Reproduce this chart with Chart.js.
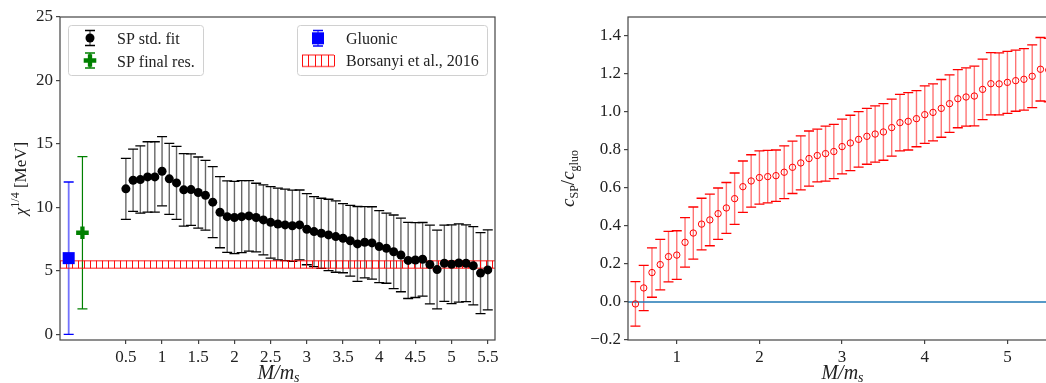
<!DOCTYPE html>
<html>
<head>
<meta charset="utf-8">
<script src="https://cdn.jsdelivr.net/npm/chart.js@4.4.0/dist/chart.umd.min.js"></script>
<style>
  html, body { margin: 0; padding: 0; background: #fff; overflow: hidden; }
  #leftBox { position: absolute; left: 0; top: 0; }
  #rightBox { position: absolute; left: 540px; top: 0; }
</style>
</head>
<body>
<div id="leftBox"><canvas id="chiChart" width="520" height="383"></canvas></div>
<div id="rightBox"><canvas id="ratioChart" width="540" height="383"></canvas></div>
<script>
// M/m_s values shared by both panels
var massRatio = [0.5,0.6,0.7,0.8,0.9,1.0,1.1,1.2,1.3,1.4,
                 1.5,1.6,1.7,1.8,1.9,2.0,2.1,2.2,2.3,2.4,
                 2.5,2.6,2.7,2.8,2.9,3.0,3.1,3.2,3.3,3.4,
                 3.5,3.6,3.7,3.8,3.9,4.0,4.1,4.2,4.3,4.4,
                 4.5,4.6,4.7,4.8,4.9,5.0,5.1,5.2,5.3,5.4,5.5];

// left panel: chi^(1/4) [MeV]
var spFit = [11.46,12.14,12.19,12.40,12.40,12.85,12.25,11.93,11.38,11.40,
             11.17,10.95,10.41,9.62,9.27,9.20,9.27,9.33,9.20,9.01,
             8.82,8.69,8.62,8.55,8.62,8.28,8.09,7.96,7.83,7.70,
             7.57,7.37,7.12,7.25,7.20,6.91,6.78,6.50,6.25,5.82,
             5.85,5.91,5.50,5.10,5.60,5.52,5.62,5.60,5.40,4.82,5.07];
var spFitErr = [2.40,2.45,2.65,2.77,2.77,2.73,2.80,2.87,2.86,2.82,
                2.80,2.75,2.80,2.80,2.82,2.85,2.84,2.78,2.70,2.76,
                2.82,2.82,2.81,2.81,2.75,2.80,2.76,2.76,2.81,2.81,
                2.72,2.78,2.95,2.81,2.85,2.84,2.76,2.90,2.90,3.00,
                2.95,2.90,3.10,3.10,3.00,3.10,3.08,3.02,3.09,3.19,3.15];
var gluonicX = [-0.29], gluonic = [6.0], gluonicErr = [6.0];
var spFinalX = [-0.10], spFinal = [8.0], spFinalErr = [6.0];
var borsanyi = [5.2, 5.8];   // band low / high
var chiTicksX = [0.5,1,1.5,2,2.5,3,3.5,4,4.5,5,5.5];
var chiTicksY = [0,5,10,15,20,25];

// right panel: c_SP / c_gluo
var ratio = [-0.010,0.074,0.155,0.197,0.239,0.247,0.314,0.363,0.410,0.432,
             0.465,0.495,0.544,0.607,0.637,0.655,0.660,0.665,0.683,0.709,
             0.732,0.755,0.771,0.781,0.792,0.818,0.837,0.856,0.872,0.884,
             0.895,0.918,0.944,0.951,0.965,0.986,0.998,1.019,1.044,1.070,
             1.079,1.084,1.119,1.149,1.148,1.156,1.165,1.172,1.188,1.225,1.221];
var ratioErr = [0.117,0.119,0.130,0.133,0.133,0.128,0.130,0.137,0.136,0.136,
                0.135,0.134,0.135,0.135,0.138,0.140,0.138,0.135,0.139,0.138,
                0.142,0.145,0.139,0.145,0.143,0.144,0.146,0.146,0.147,0.148,
                0.149,0.150,0.149,0.151,0.148,0.151,0.150,0.152,0.151,0.153,
                0.153,0.157,0.159,0.164,0.163,0.163,0.161,0.162,0.165,0.167,0.167];
var ratioRef = [0];
var ratioTicksX = [1,2,3,4,5];
var ratioTicksY = [-0.2,0,0.2,0.4,0.6,0.8,1.0,1.2,1.4];

var SERIF = '"Liberation Serif"';
var TXT = '#222';
var FRAME = '#444';

function pts(xs, ys) {
  return xs.map(function (x, i) { return { x: x, y: ys[i] }; });
}

// draws a string made of pieces (text, font, vertical shift), centered on x
function drawParts(ctx, parts, x, y) {
  var w = 0;
  parts.forEach(function (p) { ctx.font = p[1]; w += ctx.measureText(p[0]).width; });
  var cx = x - w / 2;
  ctx.textAlign = 'left';
  ctx.textBaseline = 'alphabetic';
  parts.forEach(function (p) {
    ctx.font = p[1];
    ctx.fillText(p[0], cx, y + (p[2] || 0));
    cx += ctx.measureText(p[0]).width;
  });
}

function errBar(ctx, x, yTop, yBot, half, lineCol, capCol, lw) {
  ctx.strokeStyle = lineCol;
  ctx.lineWidth = lw;
  ctx.beginPath(); ctx.moveTo(x, yTop); ctx.lineTo(x, yBot); ctx.stroke();
  ctx.strokeStyle = capCol;
  ctx.lineWidth = 1.3;
  ctx.beginPath();
  ctx.moveTo(x - half, yTop); ctx.lineTo(x + half, yTop);
  ctx.moveTo(x - half, yBot); ctx.lineTo(x + half, yBot);
  ctx.stroke();
}

function hatchBox(ctx, x0, x1, y0, y1, step) {
  ctx.save();
  ctx.strokeStyle = 'rgba(255,0,0,0.95)';
  ctx.lineWidth = 1;
  ctx.beginPath();
  for (var x = x0; x <= x1; x += step) {
    ctx.moveTo(Math.round(x) + 0.5, y0); ctx.lineTo(Math.round(x) + 0.5, y1);
  }
  ctx.stroke();
  ctx.strokeStyle = 'rgba(255,0,0,0.6)';
  ctx.lineWidth = 1.5;
  ctx.beginPath();
  ctx.moveTo(x0, y0); ctx.lineTo(x1, y0);
  ctx.moveTo(x0, y1); ctx.lineTo(x1, y1);
  ctx.stroke();
  ctx.restore();
}

// error bars (and the Borsanyi band / zero line) under the markers
var errorBars = {
  id: 'errorBars',
  beforeDatasetsDraw: function (chart) {
    var ctx = chart.ctx, xs = chart.scales.x, ys = chart.scales.y, a = chart.chartArea;
    ctx.save();
    ctx.beginPath(); ctx.rect(a.left, a.top, a.right - a.left, a.bottom - a.top); ctx.clip();
    chart.data.datasets.forEach(function (ds) {
      if (!ds.yErr) return;
      ds.data.forEach(function (p, i) {
        errBar(ctx, xs.getPixelForValue(p.x),
               ys.getPixelForValue(p.y + ds.yErr[i]),
               ys.getPixelForValue(p.y - ds.yErr[i]),
               5, ds.barColor, ds.capColor, ds.barWidth);
      });
    });
    var o = chart.options.plugins.decor;
    if (o.band) {
      hatchBox(ctx, a.left, a.right, ys.getPixelForValue(o.band[1]), ys.getPixelForValue(o.band[0]), 6);
    }
    if (o.refLine) {
      o.refLine.forEach(function (v) {
        var py = ys.getPixelForValue(v);
        ctx.strokeStyle = '#1f77b4';
        ctx.lineWidth = 1.5;
        ctx.beginPath(); ctx.moveTo(a.left, py); ctx.lineTo(a.right, py); ctx.stroke();
      });
    }
    ctx.restore();
  }
};

function legendBox(ctx, x0, y0, x1, y1) {
  ctx.save();
  ctx.fillStyle = 'rgba(255,255,255,0.85)';
  ctx.strokeStyle = '#d0d0d0';
  ctx.lineWidth = 1;
  ctx.beginPath();
  ctx.roundRect(x0 + 0.5, y0 + 0.5, x1 - x0, y1 - y0, 3);
  ctx.fill(); ctx.stroke();
  ctx.restore();
}

function drawChiLegend(ctx) {
  var f = '16px ' + SERIF;
  legendBox(ctx, 68, 25, 203, 75);
  errBar(ctx, 90, 30.5, 45.5, 5, 'rgba(0,0,0,0.6)', '#000', 1.4);
  ctx.fillStyle = '#000';
  ctx.beginPath(); ctx.arc(90, 38, 4.5, 0, Math.PI * 2); ctx.fill();
  errBar(ctx, 90, 53, 68, 5, 'green', 'green', 1.2);
  ctx.strokeStyle = 'green'; ctx.lineWidth = 4.3;
  ctx.beginPath();
  ctx.moveTo(83.7, 60.5); ctx.lineTo(96.3, 60.5);
  ctx.moveTo(90, 54.2); ctx.lineTo(90, 66.8);
  ctx.stroke();
  ctx.fillStyle = TXT; ctx.font = f; ctx.textAlign = 'left'; ctx.textBaseline = 'alphabetic';
  ctx.fillText('SP std. fit', 117, 43.5);
  ctx.fillText('SP final res.', 117, 66.5);

  legendBox(ctx, 297, 25, 487, 75);
  errBar(ctx, 318, 30.5, 46, 5, 'rgba(0,0,255,0.55)', '#0000ff', 1.8);
  ctx.fillStyle = '#0000ff';
  ctx.fillRect(312, 32.3, 12, 12);
  hatchBox(ctx, 302, 334, 55, 66.5, 6.4);
  ctx.fillStyle = TXT; ctx.font = f; ctx.textAlign = 'left'; ctx.textBaseline = 'alphabetic';
  ctx.fillText('Gluonic', 346, 43.5);
  ctx.fillText('Borsanyi et al., 2016', 346, 65.8);
}

// box frame, axis titles, legends
var decor = {
  id: 'decor',
  afterDraw: function (chart) {
    var ctx = chart.ctx, a = chart.chartArea, o = chart.options.plugins.decor;
    ctx.save();
    ctx.strokeStyle = FRAME;
    ctx.lineWidth = 1.2;
    ctx.strokeRect(a.left, a.top, a.right - a.left, a.bottom - a.top);
    ctx.fillStyle = TXT;
    drawParts(ctx, [['M/m', 'italic 20px ' + SERIF], ['s', 'italic 14px ' + SERIF, 3]],
              (a.left + a.right) / 2 + o.xTitleShift, 379);
    ctx.save();
    ctx.translate(o.yTitleX, (a.top + a.bottom) / 2);
    ctx.rotate(-Math.PI / 2);
    drawParts(ctx, o.yTitle, 0, 0);
    ctx.restore();
    if (o.chiLegend) drawChiLegend(ctx);
    ctx.restore();
  }
};

function axisOpts(min, max, tickVals, fmt, fit) {
  return {
    type: 'linear',
    min: min, max: max,
    afterBuildTicks: function (s) { s.ticks = tickVals.map(function (v) { return { value: v }; }); },
    afterFit: fit,
    grid: { drawOnChartArea: false, drawTicks: true, tickLength: 4, color: FRAME, lineWidth: 1.2 },
    border: { display: false },
    ticks: { color: TXT, padding: 3, maxRotation: 0, autoSkip: false,
             font: { family: 'Liberation Serif', size: 17 }, callback: fmt }
  };
}

new Chart('chiChart', {
  type: 'scatter',
  data: {
    datasets: [
      { label: 'SP std. fit', data: pts(massRatio, spFit), yErr: spFitErr,
        barColor: 'rgba(0,0,0,0.6)', capColor: '#000', barWidth: 1.4,
        pointStyle: 'circle', pointRadius: 4.5, backgroundColor: '#000', borderWidth: 0 },
      { label: 'SP final res.', data: pts(spFinalX, spFinal), yErr: spFinalErr,
        barColor: 'green', capColor: 'green', barWidth: 1.2,
        pointStyle: 'cross', pointRadius: 6.3, borderColor: 'green', borderWidth: 4.3 },
      { label: 'Gluonic', data: pts(gluonicX, gluonic), yErr: gluonicErr,
        barColor: 'rgba(0,0,255,0.55)', capColor: '#0000ff', barWidth: 1.8,
        pointStyle: 'rect', pointRadius: 8.5, backgroundColor: '#0000ff', borderWidth: 0 }
    ]
  },
  options: {
    responsive: false, animation: false, events: [],
    layout: { padding: { left: 0, top: 17, right: 25, bottom: 0 } },
    scales: {
      x: axisOpts(-0.41, 5.6, chiTicksX, function (v) { return String(v); },
                  function (s) { s.height = 43; }),
      y: axisOpts(-0.45, 25, chiTicksY, function (v) { return String(v); },
                  function (s) { s.width = 60; })
    },
    plugins: {
      legend: { display: false }, tooltip: { enabled: false },
      decor: {
        band: borsanyi, chiLegend: true,
        xTitleShift: 1, yTitleX: 26,
        yTitle: [['\u03c7', 'italic 17px ' + SERIF], ['1/4', '12px ' + SERIF, -7], [' [MeV]', '17px ' + SERIF]]
      }
    }
  },
  plugins: [errorBars, decor]
});

new Chart('ratioChart', {
  type: 'scatter',
  data: {
    datasets: [
      { label: 'ratio', data: pts(massRatio, ratio), yErr: ratioErr,
        barColor: 'rgba(255,0,0,0.55)', capColor: '#ff0000', barWidth: 1.4,
        pointStyle: 'circle', pointRadius: 3.2, backgroundColor: 'rgba(0,0,0,0)',
        borderColor: '#ff0000', borderWidth: 1 }
    ]
  },
  options: {
    responsive: false, animation: false, events: [],
    layout: { padding: { left: 0, top: 17, right: 23, bottom: 0 } },
    scales: {
      x: axisOpts(0.41, 5.6, ratioTicksX, function (v) { return String(v); },
                  function (s) { s.height = 43; }),
      y: axisOpts(-0.2, 1.5, ratioTicksY,
                  function (v) { return v < 0 ? '\u2212' + Math.abs(v).toFixed(1) : v.toFixed(1); },
                  function (s) { s.width = 88; })
    },
    plugins: {
      legend: { display: false }, tooltip: { enabled: false },
      decor: {
        refLine: ratioRef, chiLegend: false,
        xTitleShift: 0, yTitleX: 34,
        yTitle: [['c', 'italic 19px ' + SERIF], ['SP', '12px ' + SERIF, 4], ['/', '19px ' + SERIF],
                 ['c', 'italic 19px ' + SERIF], ['gluo', '12px ' + SERIF, 4]]
      }
    }
  },
  plugins: [errorBars, decor]
});
</script>
</body>
</html>
